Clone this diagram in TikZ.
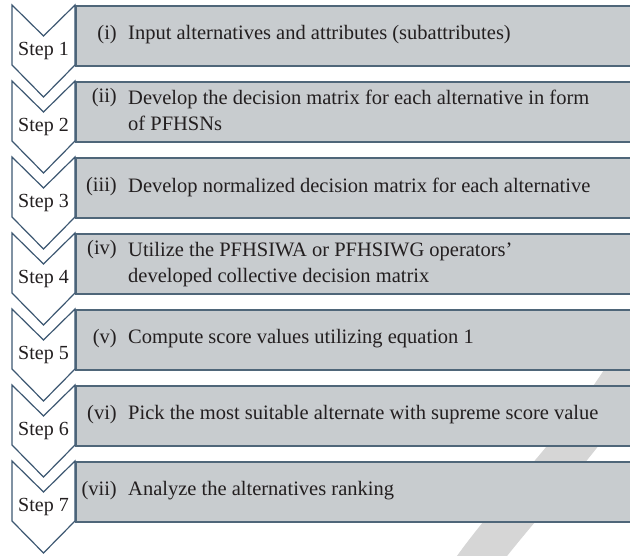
\documentclass[tikz,border=0pt]{standalone}
\usepackage{fontspec}
\setmainfont{Liberation Serif}
\definecolor{chevline}{HTML}{3D5872}
\definecolor{boxfill}{HTML}{C8CCCF}
\definecolor{boxline}{HTML}{4F6679}
\definecolor{txtcol}{HTML}{231F20}
\definecolor{wmark}{HTML}{D6D6D6}
\tikzset{
  chev/.style={draw=chevline, line width=1.2pt, fill=white, line join=miter},
  stepbox/.style={draw=boxline, line width=1.6pt, fill=boxfill},
  steplab/.style={font=\fontsize{20}{24}\selectfont, text=txtcol, inner sep=0pt},
  itemlab/.style={font=\fontsize{20.5}{26}\selectfont, text=txtcol, inner sep=0pt, anchor=east},
  itemtxt/.style={font=\fontsize{20.5}{26}\selectfont, text=txtcol, inner sep=0pt, anchor=west, align=left}
}
\begin{document}
\begin{tikzpicture}[x=1pt,y=-1pt]
\useasboundingbox (0,0) rectangle (630,556);
\clip (0,0) rectangle (630,556);
% watermark band
\draw[wmark, line width=40pt] (468,575) .. controls (520,500) and (600,430) .. (650,330);
% boxes
\foreach \k in {1,...,7}{
  \pgfmathsetmacro{\T}{5+76*(\k-1)}
  \node[stepbox, minimum width=565pt, minimum height=60pt, anchor=north west, inner sep=0pt] (box\k) at (75,\T) {};
}
% chevrons
\foreach \k in {1,...,7}{
  \pgfmathsetmacro{\T}{5+76*(\k-1)}
  \draw[chev] (12,\T) -- (43.5,\T+31) -- (75,\T) -- (75,\T+60) -- (43.5,\T+92) -- (12,\T+60) -- cycle;
  \node[steplab] (step\k) at (43.5,\T+46) {Step \k};
}
% texts
\node[itemlab] (lab1) at (117,35) {(i)};
\node[itemtxt] (txt1) at (128,35) {Input alternatives and attributes (subattributes)};
\node[itemlab] (lab2) at (117,98) {(ii)};
\node[itemtxt, anchor=north west] (txt2) at (128,90) {Develop the decision matrix for each alternative in form\\of PFHSNs};
\node[itemlab] (lab3) at (117,187) {(iii)};
\node[itemtxt] (txt3) at (128,187) {Develop normalized decision matrix for each alternative};
\node[itemlab] (lab4) at (117,250) {(iv)};
\node[itemtxt, anchor=north west] (txt4) at (128,242) {Utilize the PFHSIWA or PFHSIWG operators’\\developed collective decision matrix};
\node[itemlab] (lab5) at (117,339) {(v)};
\node[itemtxt] (txt5) at (128,339) {Compute score values utilizing equation 1};
\node[itemlab] (lab6) at (117,415) {(vi)};
\node[itemtxt] (txt6) at (128,415) {Pick the most suitable alternate with supreme score value};
\node[itemlab] (lab7) at (117,491) {(vii)};
\node[itemtxt] (txt7) at (128,491) {Analyze the alternatives ranking};
\end{tikzpicture}
\end{document}
